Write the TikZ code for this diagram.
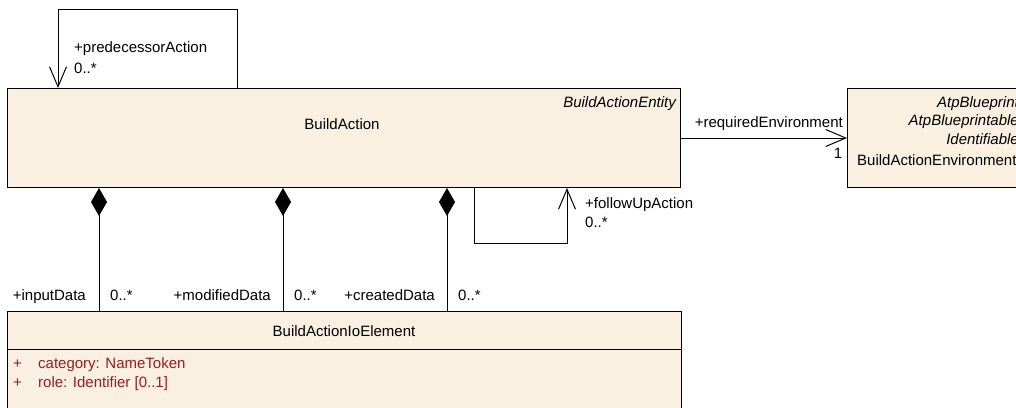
\documentclass[tikz,border=0pt]{standalone}
\usepackage{fontspec}
\setmainfont{Liberation Sans}
\usetikzlibrary{arrows.meta,positioning,calc}
\definecolor{clsfill}{RGB}{250,240,226}
\definecolor{attred}{RGB}{155,28,28}
\newcommand{\umlfont}{\fontsize{15}{18}\selectfont}
\tikzset{
  cls/.style={draw=black, fill=clsfill, line width=1pt, inner sep=0pt, anchor=north west},
  cname/.style={font=\umlfont, inner sep=0pt, anchor=base},
  stereo/.style={font=\umlfont\itshape, inner sep=0pt, anchor=base east},
  rlab/.style={font=\umlfont, inner sep=0pt},
  attr/.style={font=\umlfont, text=attred, inner sep=0pt, anchor=base west},
  asc/.style={black, line width=1pt},
  nav/.style={asc, -{Straight Barb[length=20pt, width=17pt, line width=1pt]}},
  comp/.style={asc, {Diamond[length=28pt, width=16pt]}-},
}
\begin{document}
\begin{tikzpicture}[x=1pt,y=-1pt]
\clip (0,0) rectangle (1016,407);
% classes
\node[cls, minimum width=673pt, minimum height=99pt] (buildAct) at (7,88) {};
\node[cls, minimum width=177pt, minimum height=99pt] (envCls) at (847,88) {};
\node[cls, minimum width=674pt, minimum height=120pt] (ioElem) at (7,311) {};
\coordinate (ioDiv) at (0,349);
\draw[asc] (ioElem.west |- ioDiv) -- (ioElem.east |- ioDiv);

\node[stereo] (baStereo) at (676,107) {BuildActionEntity};
\node[cname] (baName) at (342,129) {BuildAction};
\node[stereo] at (1019,107) {AtpBlueprint};
\node[stereo] at (1019,125) {AtpBlueprintable};
\node[stereo] at (1019,144) {Identifiable};
\node[cname, anchor=base west] (envName) at (857,165) {BuildActionEnvironment};
\node[cname] (ioName) at (344,336) {BuildActionIoElement};
\node[attr, text=attred] at (13,368) {+};
\node[attr] (attCat) at (38,368) {category: NameToken};
\node[attr] at (13,387) {+};
\node[attr] (attRole) at (38,387) {role: Identifier [0..1]};

% self associations
\coordinate (predL) at (58,9);
\coordinate (predR) at (237,9);
\draw[nav] (buildAct.north -| predR) -- (predR) -- (predL) -- (buildAct.north -| predL);
\node[rlab, anchor=base west] at (74,52) {+predecessorAction};
\node[rlab, anchor=base west] at (74,73) {0..*};

\coordinate (fupL) at (474,243);
\coordinate (fupR) at (567,243);
\draw[nav] (buildAct.south -| fupL) -- (fupL) -- (fupR) -- (buildAct.south -| fupR);
\node[rlab, anchor=base west] at (585,208) {+followUpAction};
\node[rlab, anchor=base west] at (585,227) {0..*};

% environment
\coordinate (envY) at (0,138);
\draw[nav] (buildAct.east |- envY) -- (envCls.west |- envY);
\node[rlab, anchor=base east] at (843,127) {+requiredEnvironment};
\node[rlab, anchor=base] at (838,158) {1};

% compositions
\foreach \xc/\role/\rx in {99/inputData/86, 283/modifiedData/271, 447/createdData/435}{
  \coordinate (c\role) at (\xc,0);
  \draw[comp] (buildAct.south -| c\role) -- (ioElem.north -| c\role);
  \node[rlab, anchor=base east] at (\rx,300) {+\role};
  \node[rlab, anchor=base west] at (\xc+11,300) {0..*};
}
\end{tikzpicture}
\end{document}
